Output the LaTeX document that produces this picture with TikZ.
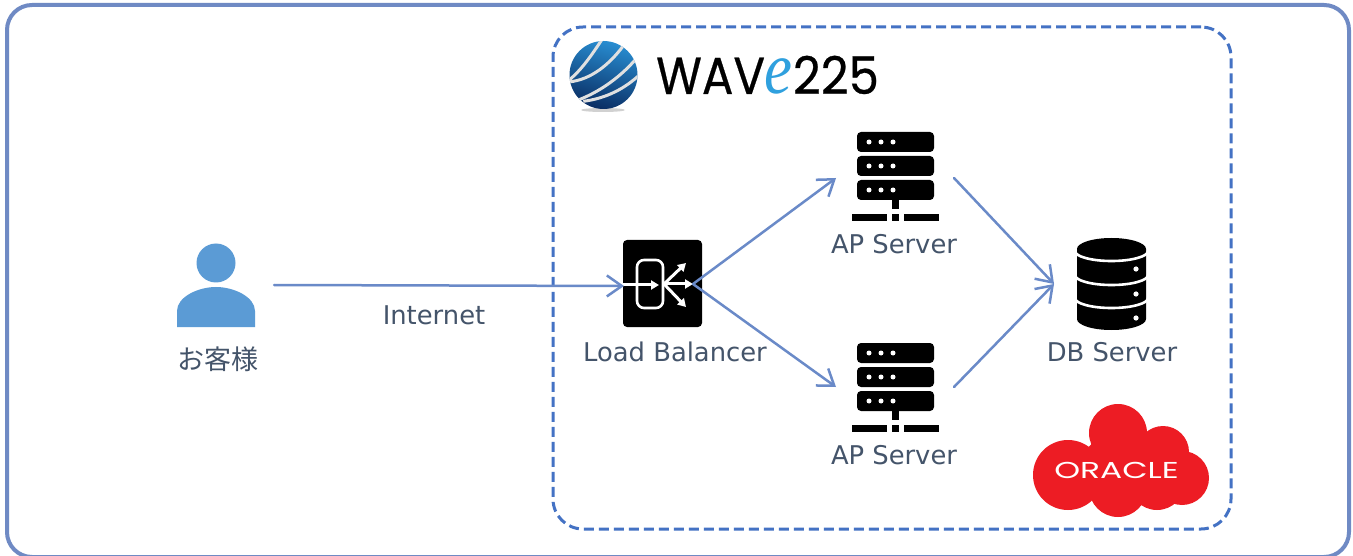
\documentclass[tikz,border=0pt]{standalone}
\usepackage{fontspec}
\setmainfont{DejaVu Sans}
\newfontfamily\cjkjp{Noto Sans CJK JP}
\newfontfamily\logofont[FakeBold=0.5]{Poppins}
\newfontfamily\efont{Liberation Serif}
\newfontfamily\oraclefont{Poppins}
\usetikzlibrary{arrows.meta}
\definecolor{framec}{HTML}{6F8AC4}
\definecolor{dashc}{HTML}{4472C4}
\definecolor{linkc}{HTML}{6A8AC8}
\definecolor{labelc}{HTML}{44546A}
\definecolor{personc}{HTML}{5B9BD5}
\definecolor{oraclec}{HTML}{ED1C24}
\definecolor{ec}{HTML}{2FA0DE}
\definecolor{globetop}{HTML}{2A93D8}
\definecolor{globemid}{HTML}{0E68AE}
\definecolor{globelow}{HTML}{08275C}
\tikzset{
  outerframe/.style={draw=framec,line width=4pt,rounded corners=25pt,minimum width=1342pt,minimum height=552pt,inner sep=0pt,outer sep=0pt},
  innerframe/.style={draw=dashc,line width=3pt,rounded corners=30pt,dash pattern=on 10pt off 5pt,minimum width=678pt,minimum height=502pt,inner sep=0pt,outer sep=0pt},
  lbl/.style={text=labelc,font=\fontsize{25.8}{30}\selectfont,inner sep=0pt},
  anchorbox/.style={inner sep=0pt,outer sep=0pt,minimum width=#1,minimum height=10pt},
  link/.style={draw=linkc,line width=2.5pt,line cap=round,-{Straight Barb[length=15pt,width=21pt,line width=2.5pt]}},
  wht/.style={draw=white,line width=3pt,-{Triangle[length=8pt,width=9pt]}},
  stripe/.style={draw=white!88!black,line width=3pt},
}
\newcommand{\serverglyph}[1]{%
\begin{scope}[shift={(0,#1)}]
  \foreach \yy in {132,156,180}{
    \fill[black,rounded corners=4pt] (857,\yy) rectangle (934,\yy+20);
    \foreach \xx in {869,881,893}{\fill[white] (\xx,\yy+10) circle (2.5pt);}
  }
  \fill[black] (892,200) rectangle (899,209);
  \fill[black] (852,214) rectangle (887,221);
  \fill[black] (892,214) rectangle (899,221);
  \fill[black] (904,214) rectangle (939,221);
\end{scope}}
\begin{document}
\begin{tikzpicture}[x=1pt,y=-1pt]
\useasboundingbox (0,0) rectangle (1353,556);
\fill[white] (0,0) rectangle (1353,556);
\begin{scope}
\clip (0,0) rectangle (1353,556);
\node[outerframe] (outer) at (678,281) {};
\end{scope}
\node[innerframe] (inner) at (892,278) {};
% globe
\fill[black!18] (603,110) ellipse (22pt and 2pt);
\begin{scope}
  \clip (603.5,75) circle (34pt);
  \shade[top color=globetop,middle color=globemid,bottom color=globelow,shading angle=-15] (560,38) rectangle (647,112);
  \begin{scope}[shift={(550,20)},x=.3333pt,y=-.3333pt]
    \draw[stripe] (55,182) .. controls (95,150) and (125,105) .. (155,60);
    \draw[stripe] (55,186) .. controls (125,180) and (180,130) .. (218,80);
    \draw[stripe] (85,240) .. controls (150,215) and (215,170) .. (268,105);
    \draw[stripe] (100,244) .. controls (170,235) and (225,205) .. (268,165);
  \end{scope}
\end{scope}
\node[anchor=base west,inner sep=0pt] (logo) at (656,94) {\fontsize{52}{52}\logofont \scalebox{.9}[1]{WAV}\kern-1pt{\fontsize{74}{74}\efont\itshape\color{ec}\scalebox{.85}[1]{e}}\kern1pt\scalebox{.93}[1]{225}};
% person
\fill[personc] (216,263) circle (19.5pt);
\fill[personc] (177,327) -- (177,311) .. controls (177,297) and (198,287) .. (216,287) .. controls (234,287) and (255,297) .. (255,311) -- (255,327) -- cycle;
\node[anchorbox=116pt] (client) at (216,285) {};
\node[lbl,font=\fontsize{27}{30}\selectfont] (clientlabel) at (218,359) {\cjkjp お客様};
% load balancer
\fill[black,rounded corners=4pt] (623,240) rectangle (702,327);
\draw[white,line width=2.6pt,rounded corners=7pt] (637,260) rectangle (663,308);
\draw[wht] (623,285) -- (659,285);
\draw[wht] (664,284) -- (686,263);
\draw[wht] (664,284) -- (693,284);
\draw[wht] (664,284) -- (686,307);
\node[anchorbox=78pt] (lb) at (663,286) {};
\coordinate (lbout) at (693,284);
\node[lbl] (lblabel) at (675,352) {Load Balancer};
% servers
\serverglyph{0}
\serverglyph{211}
\node[anchorbox=118pt] (apa) at (895,178) {};
\node[anchorbox=118pt] (apb) at (895,387) {};
\node[lbl] (apalabel) at (894,244) {AP Server};
\node[lbl] (apblabel) at (894,455) {AP Server};
% database
\fill[black] (1077,249) arc[start angle=180,end angle=0,x radius=34.5pt,y radius=11pt] -- (1146,319) arc[start angle=360,end angle=180,x radius=34.5pt,y radius=11pt] -- cycle;
\foreach \yy in {251,275,298}{
  \draw[white,line width=2.6pt] (1075,\yy) arc[start angle=180,end angle=360,x radius=36.5pt,y radius=10pt];
}
\foreach \yy in {269,294,318}{\fill[white] (1136,\yy) circle (2.6pt);}
\node[anchorbox=114pt] (db) at (1111,284) {};
\node[lbl] (dblabel) at (1112,352) {DB Server};
% oracle cloud
\fill[oraclec] (1118,433) circle (29pt) (1068,475) circle (35pt) (1118,488) circle (29pt)
  (1182,478) circle (27pt) (1163,452) circle (26pt) (1157,482) circle (28pt) (1115,470) circle (35pt);
\node[text=white,inner sep=0pt,xscale=1.43,font=\fontsize{23}{23}\oraclefont] (oracle) at (1116.5,470) {ORACLE};
% connectors
\draw[link] (client.east) -- (lb.west);
\draw[link] (lbout) -- (apa.west);
\draw[link] (lbout) -- (apb.west);
\draw[link] (apa.east) -- (db.west);
\draw[link] (apb.east) -- (db.west);
\node[lbl] (netlabel) at (434,315) {Internet};
\end{tikzpicture}
\end{document}
